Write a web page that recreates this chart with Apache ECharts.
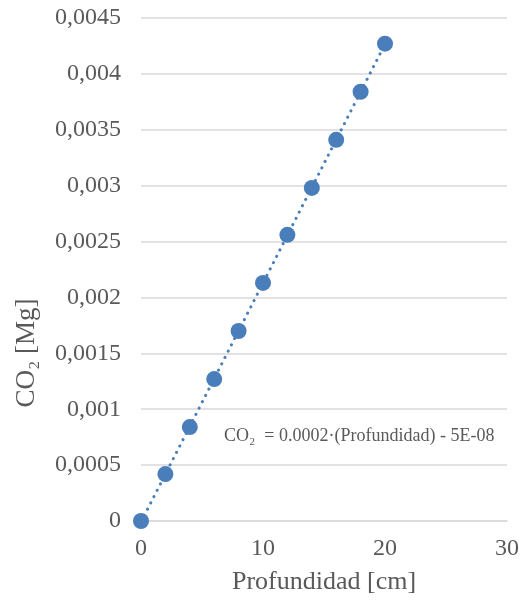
<!DOCTYPE html>
<html>
<head>
<meta charset="utf-8">
<script src="https://cdn.jsdelivr.net/npm/echarts@6/dist/echarts.min.js"></script>
<style>
  html, body { margin: 0; padding: 0; background: #fff; }
  #chart { width: 524px; height: 600px; }
</style>
</head>
<body>
<div id="chart"></div>
<script>
var profundidad = [0, 2, 4, 6, 8, 10, 12, 14, 16, 18, 20];
var co2 = [0, 0.00042, 0.00084, 0.00127, 0.0017, 0.00213, 0.00256, 0.00298, 0.00341, 0.00384, 0.00427];
var ecuacion = 'CO\u2082  = 0.0002\u00b7(Profundidad) - 5E-08';

// linear trend line (least squares)
function trend(xs, ys) {
    var n = xs.length, sx = 0, sy = 0, sxx = 0, sxy = 0;
    for (var i = 0; i < n; i++) {
        sx += xs[i]; sy += ys[i];
        sxx += xs[i] * xs[i]; sxy += xs[i] * ys[i];
    }
    var m = (n * sxy - sx * sy) / (n * sxx - sx * sx);
    var b = (sy - m * sx) / n;
    var x0 = xs[0], x1 = xs[n - 1];
    return [[x0, m * x0 + b], [x1, m * x1 + b]];
}

var font = '"Liberation Serif", "Times New Roman", serif';
var gray = '#595959';
var blue = '#4a7ebb';

var myChart = echarts.init(document.getElementById('chart'));
var option = {
    animation: false,
    textStyle: { fontFamily: font },
    grid: { left: 141, right: 17, top: 18, bottom: 79 },
    xAxis: {
        type: 'value',
        min: 0, max: 30, interval: 10,
        name: 'Profundidad [cm]',
        nameLocation: 'middle',
        nameGap: 48,
        nameTextStyle: { fontSize: 26, color: gray, fontFamily: font },
        axisLine: { show: true, lineStyle: { color: '#d9d9d9', width: 1.5 } },
        axisTick: { show: false },
        splitLine: { show: false },
        axisLabel: { fontSize: 24, color: gray, margin: 16, fontFamily: font }
    },
    yAxis: {
        type: 'value',
        min: 0, max: 0.0045, interval: 0.0005,
        axisLine: { show: false },
        axisTick: { show: false },
        splitLine: { show: true, lineStyle: { color: '#d9d9d9', width: 1.5 } },
        axisLabel: {
            fontSize: 24, color: gray, margin: 20, fontFamily: font,
            formatter: function (v) {
                return String(Number(v.toPrecision(6))).replace('.', ',');
            }
        }
    },
    graphic: [{
        type: 'text',
        x: 27, y: 353,
        rotation: Math.PI / 2,
        style: {
            text: 'CO\u2082 [Mg]',
            font: '27px ' + font,
            fill: gray,
            align: 'center',
            verticalAlign: 'middle'
        }
    }, {
        type: 'text',
        x: 224, y: 436,
        style: {
            text: ecuacion,
            font: '18px ' + font,
            fill: gray,
            align: 'left',
            verticalAlign: 'middle'
        }
    }],
    series: [{
        type: 'line',
        data: trend(profundidad, co2),
        symbol: 'none',
        lineStyle: { color: blue, width: 3, type: [0.1, 7], cap: 'round' },
        z: 2
    }, {
        type: 'scatter',
        data: profundidad.map(function (x, i) { return [x, co2[i]]; }),
        symbolSize: 16,
        itemStyle: { color: blue, opacity: 1 },
        z: 3
    }]
};
myChart.setOption(option);

window.onresize = function () {
    myChart.resize();
};
</script>
</body>
</html>
